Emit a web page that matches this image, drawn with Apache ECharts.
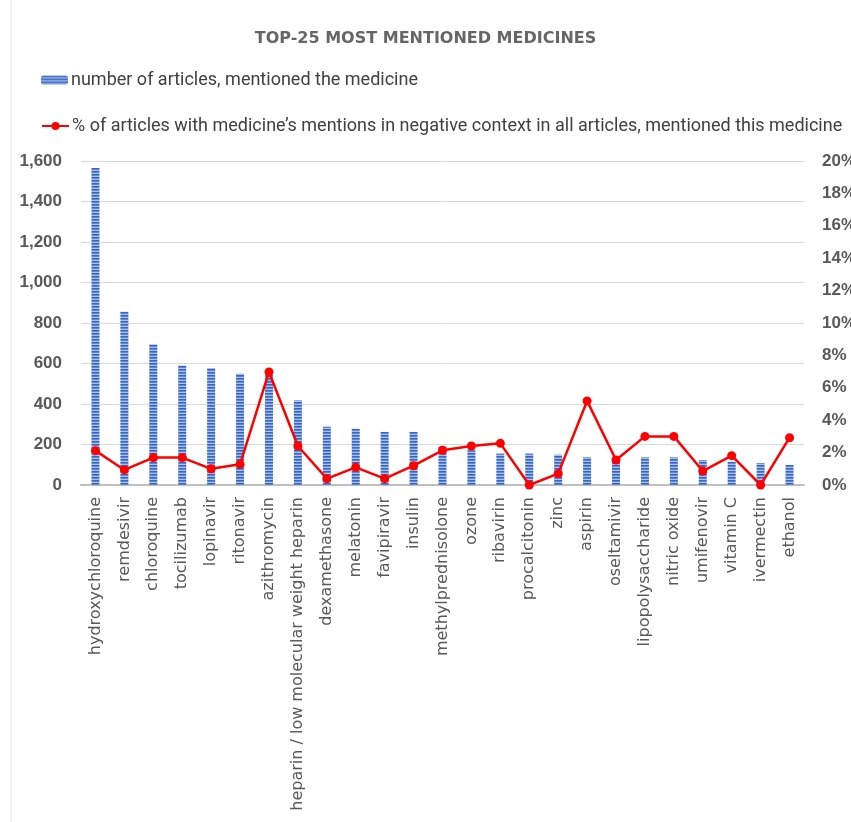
<!DOCTYPE html>
<html>
<head>
<meta charset="utf-8">
<script src="https://cdn.jsdelivr.net/npm/echarts@6/dist/echarts.min.js"></script>
<style>
  html, body { margin: 0; padding: 0; background: #fff; }
  #main { width: 851px; height: 822px; }
</style>
</head>
<body>
<div id="main"></div>
<script>
const medicines = [
  "hydroxychloroquine", "remdesivir", "chloroquine", "tocilizumab", "lopinavir",
  "ritonavir", "azithromycin", "heparin / low molecular weight heparin", "dexamethasone",
  "melatonin", "favipiravir", "insulin", "methylprednisolone", "ozone", "ribavirin",
  "procalcitonin", "zinc", "aspirin", "oseltamivir", "lipopolysaccharide", "nitric oxide",
  "umifenovir", "vitamin C", "ivermectin", "ethanol"
];
const articleCounts = [
  1565, 855, 695, 590, 578, 550, 545, 418, 288,
  278, 262, 262, 193, 172, 155,
  155, 150, 137, 137, 137, 137,
  123, 115, 108, 99
];
const negativeShare = [
  2.12, 0.93, 1.69, 1.69, 1.0, 1.28, 6.98, 2.41, 0.39,
  1.09, 0.39, 1.19, 2.14, 2.41, 2.57,
  0, 0.7, 5.19, 1.54, 3.0, 3.0,
  0.86, 1.81, 0, 2.92
];
const barName = "number of articles, mentioned the medicine";
const lineName = "% of articles with medicine\u2019s mentions in negative context in all articles, mentioned this medicine";

// striped fill for the bars
const stripe = document.createElement("canvas");
stripe.width = 8;
stripe.height = 3;
const sctx = stripe.getContext("2d");
sctx.fillStyle = "#3a67bd"; sctx.fillRect(0, 0, 8, 1);
sctx.fillStyle = "#5c86d2"; sctx.fillRect(0, 1, 8, 1);
sctx.fillStyle = "#a9c0ea"; sctx.fillRect(0, 2, 8, 1);

const grey = "#595959";
const chart = echarts.init(document.getElementById("main"));
chart.setOption({
  animation: false,
  backgroundColor: "#fff",
  title: {
    text: "TOP-25 MOST MENTIONED MEDICINES",
    left: "center",
    top: 26,
    textStyle: { fontFamily: "DejaVu Sans", fontSize: 16, fontWeight: "bold", color: "#666" }
  },
  legend: [
    {
      data: [barName],
      left: 41, top: 71, padding: 0,
      itemWidth: 27, itemHeight: 9,
      textStyle: { fontFamily: "Roboto", fontSize: 18, color: "#404040", padding: [0, 0, 0, -2] }
    },
    {
      data: [lineName],
      left: 41, top: 117, padding: 0,
      itemWidth: 27, itemHeight: 10,
      textStyle: { fontFamily: "Roboto", fontSize: 18, color: "#404040", padding: [0, 0, 0, -2] }
    }
  ],
  grid: { left: 81, right: 47, top: 161, bottom: 337, containLabel: false, outerBoundsMode: "none" },
  xAxis: {
    type: "category",
    data: medicines,
    axisTick: { show: false },
    axisLine: { lineStyle: { color: "#bfbfbf", width: 2 } },
    axisLabel: {
      interval: 0, rotate: 90, margin: 12,
      fontFamily: "DejaVu Sans", fontSize: 16, color: grey
    }
  },
  yAxis: [
    {
      type: "value", min: 0, max: 1600, interval: 200,
      axisLine: { show: false }, axisTick: { show: false },
      splitLine: { lineStyle: { color: "#d9d9d9", width: 1 } },
      axisLabel: {
        margin: 19, fontFamily: "Liberation Sans", fontSize: 17, fontWeight: "bold", color: grey,
        formatter: v => v.toLocaleString("en-US")
      }
    },
    {
      type: "value", min: 0, max: 20, interval: 2,
      axisLine: { show: false }, axisTick: { show: false },
      splitLine: { show: false },
      axisLabel: {
        margin: 18, fontFamily: "Liberation Sans", fontSize: 17, fontWeight: "bold", color: grey,
        formatter: "{value}%"
      }
    }
  ],
  series: [
    {
      name: barName,
      type: "bar",
      data: articleCounts,
      barWidth: 8,
      itemStyle: { color: { image: stripe, repeat: "repeat" } }
    },
    {
      name: lineName,
      type: "line",
      yAxisIndex: 1,
      data: negativeShare,
      color: "#ff0000",
      lineStyle: { color: "#ff0000", width: 2.5 },
      itemStyle: { color: "#ff0000" },
      symbol: "circle",
      symbolSize: 9,
      z: 5
    }
  ],
  graphic: [
    {
      type: "line",
      shape: { x1: 11, y1: 0, x2: 11, y2: 822 },
      style: { stroke: "#e3e3e3", lineWidth: 1 },
      silent: true
    }
  ]
});
</script>
</body>
</html>
